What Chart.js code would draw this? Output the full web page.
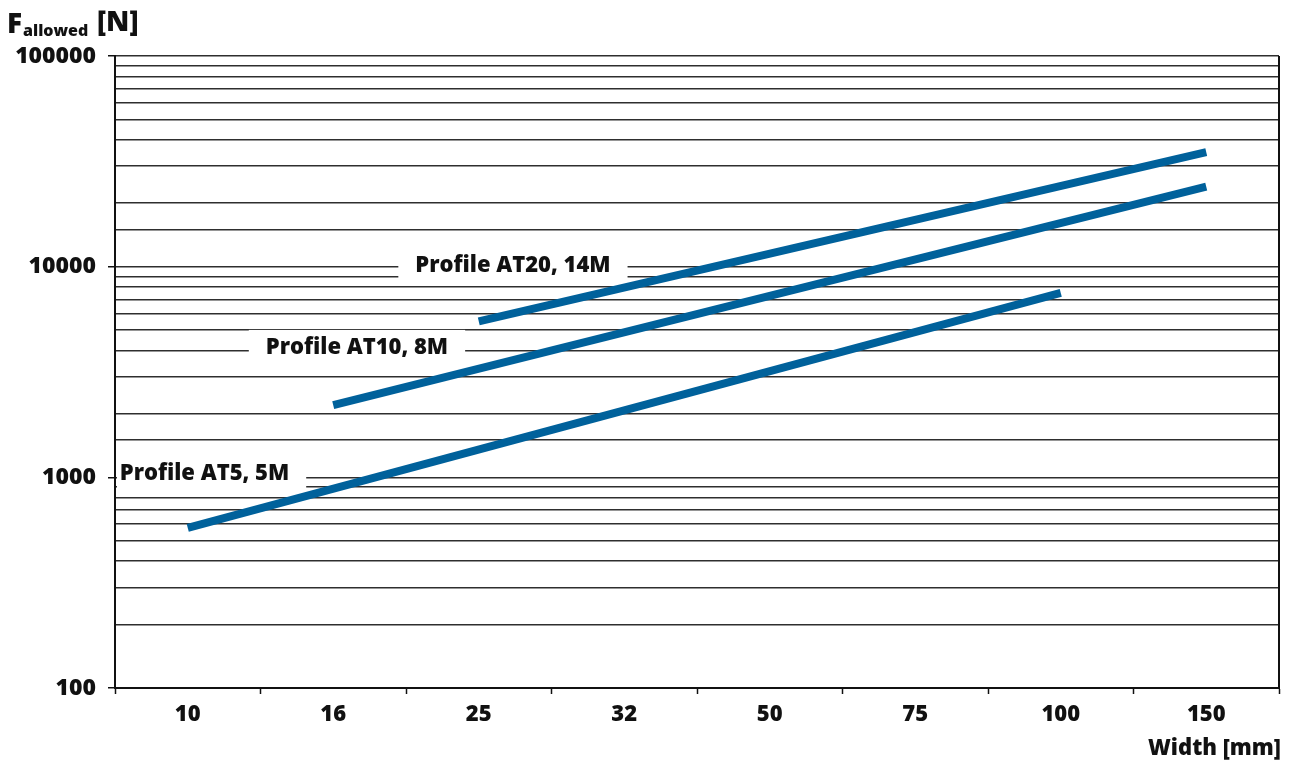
<!DOCTYPE html>
<html>
<head>
<meta charset="utf-8">
<script src="https://cdn.jsdelivr.net/npm/chart.js@4"></script>
<style>
    body { margin: 0; background: #fff; }
    #wrap { width: 1293px; height: 767px; }
</style>
</head>
<body>
<div id="wrap"><canvas id="forceChart" width="1293" height="767"></canvas></div>
<script>
// belt width categories and allowed force per profile (N)
const widths = ['10', '16', '25', '32', '50', '75', '100', '150'];
const at5 = [575, null, null, null, null, null, 7500, null];
const at10 = [null, 2200, null, null, null, null, null, 24000];
const at20 = [null, null, 5500, null, null, null, null, 35000];
const yTicksMin = 100;
const yTicksMax = 100000;

// in-chart profile labels (category position, value)
const profileNames = ['Profile AT20, 14M', 'Profile AT10, 8M', 'Profile AT5, 5M'];
const profileAtIdx = [2.235, 1.163, 0.115];
const profileAtVal = [10200, 4160, 1050];

const FONT = '"Open Sans", "DejaVu Sans", sans-serif';
const WEIGHT = '800';
const lineColor = '#00619b';

function isDecade(v) {
    const l = Math.log10(v);
    return Math.abs(l - Math.round(l)) < 1e-9;
}

const extras = {
    id: 'extras',
    beforeDatasetsDraw(chart) {
        const ctx = chart.ctx;
        const x = chart.scales.x, y = chart.scales.y;
        ctx.save();
        ctx.font = WEIGHT + ' 22px ' + FONT;
        ctx.textBaseline = 'middle';
        ctx.textAlign = 'center';
        profileNames.forEach(function (name, i) {
            const cx = x.getPixelForValue(profileAtIdx[i]);
            const cy = y.getPixelForValue(profileAtVal[i]);
            const w = ctx.measureText(name).width + 34;
            let left = cx - w / 2;
            if (left < chart.chartArea.left + 2) left = chart.chartArea.left + 2;
            ctx.fillStyle = '#fff';
            ctx.fillRect(left, cy - 17, cx + w / 2 - left, 34);
            ctx.fillStyle = '#111';
            ctx.fillText(name, cx, cy + 1);
        });
        ctx.restore();
    },
    afterDraw(chart) {
        const ctx = chart.ctx;
        const area = chart.chartArea;
        ctx.save();
        // right frame line
        ctx.strokeStyle = '#111';
        ctx.lineWidth = 2;
        ctx.beginPath();
        ctx.moveTo(area.right, area.top);
        ctx.lineTo(area.right, area.bottom);
        ctx.stroke();

        ctx.fillStyle = '#111';
        ctx.textBaseline = 'alphabetic';
        ctx.textAlign = 'left';
        ctx.font = WEIGHT + ' 28px ' + FONT;
        ctx.fillText('F', 7, 33);
        ctx.font = WEIGHT + ' 16px ' + FONT;
        ctx.fillText('allowed', 23, 36);
        ctx.font = WEIGHT + ' 28px ' + FONT;
        ctx.fillText('[N]', 97, 31);

        ctx.font = WEIGHT + ' 22px ' + FONT;
        ctx.textAlign = 'right';
        ctx.fillText('Width [mm]', area.right + 2, 755);
        ctx.restore();
    }
};

new Chart(document.getElementById('forceChart').getContext('2d'), {
    type: 'line',
    data: {
        labels: widths,
        datasets: [
            { label: 'Profile AT5, 5M', data: at5 },
            { label: 'Profile AT10, 8M', data: at10 },
            { label: 'Profile AT20, 14M', data: at20 }
        ].map(function (d) {
            return Object.assign(d, {
                borderColor: lineColor,
                borderWidth: 8,
                borderCapStyle: 'butt',
                pointRadius: 0,
                spanGaps: true,
                tension: 0
            });
        })
    },
    options: {
        responsive: false,
        animation: false,
        layout: { padding: { top: 56, right: 14, left: 0, bottom: 0 } },
        plugins: {
            legend: { display: false },
            tooltip: { enabled: false }
        },
        scales: {
            x: {
                offset: true,
                afterFit: function (s) { s.height = 79; },
                grid: {
                    offset: true,
                    drawOnChartArea: false,
                    tickLength: 6,
                    tickColor: '#111',
                    tickWidth: 1.5
                },
                border: { color: '#111', width: 2 },
                ticks: {
                    color: '#111',
                    padding: 8,
                    maxRotation: 0,
                    font: { family: FONT, size: 22, weight: WEIGHT }
                }
            },
            y: {
                type: 'logarithmic',
                min: yTicksMin,
                max: yTicksMax,
                afterFit: function (s) { s.width = 115; },
                grid: {
                    color: '#2e2e2e',
                    lineWidth: 1.5,
                    tickLength: 7,
                    tickColor: function (c) { return c.tick && isDecade(c.tick.value) ? '#111' : 'rgba(0,0,0,0)'; }
                },
                border: { color: '#111', width: 2 },
                ticks: {
                    autoSkip: false,
                    color: '#111',
                    padding: 12,
                    font: { family: FONT, size: 23, weight: WEIGHT },
                    callback: function (v) { return isDecade(v) ? String(v) : ''; }
                }
            }
        }
    },
    plugins: [extras]
});
</script>
</body>
</html>
